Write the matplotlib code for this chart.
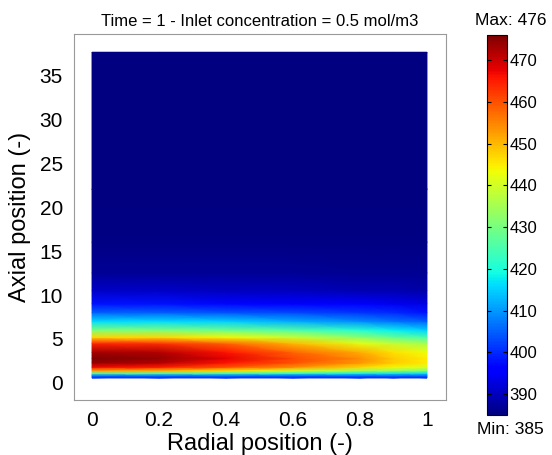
import matplotlib
matplotlib.use('Agg')
import numpy as np
import matplotlib.pyplot as plt

plt.rcParams['font.family'] = ['Liberation Sans', 'DejaVu Sans']

# Radial and axial positions of the read-off grid
radial = [0.0, 0.2, 0.4, 0.6, 0.8, 0.9, 1.0]
axial = [0.57, 0.8, 1.1, 1.4, 1.8, 2.3, 2.8, 3.5, 4.5, 5.2, 6.0, 7.0, 8.0,
         9.0, 10.5, 12.5, 16.0, 22.0, 37.6]

# Temperature, one list per radial position (bottom to top)
T_r00 = [400, 405, 425, 452, 467, 474, 476, 473, 464, 447, 431, 416, 405, 398, 391, 387, 385.5, 385, 385]
T_r02 = [400, 405, 424, 450, 465, 472, 474, 472, 463, 447, 431, 416, 405, 398, 391, 387, 385.5, 385, 385]
T_r04 = [400, 405, 422, 446, 460, 466, 468, 466, 458, 444, 429, 415, 404, 397, 390, 387, 385.5, 385, 385]
T_r06 = [400, 404, 420, 440, 454, 460, 461, 458, 450, 439, 426, 412, 403, 396, 390, 387, 385.5, 385, 385]
T_r08 = [400, 404, 418, 435, 447, 453, 454, 451, 442, 432, 421, 409, 401, 395, 389, 386.5, 385.5, 385, 385]
T_r09 = [400, 404, 417, 433, 444, 448, 448, 446, 438, 428, 418, 407, 400, 394, 389, 386.5, 385.5, 385, 385]
T_r10 = [400, 404, 416, 431, 441, 445, 445, 443, 435, 425, 415, 405, 398, 393, 388.5, 386.5, 385.5, 385, 385]

T_min, T_max = 385, 476
cbar_ticks = [390, 400, 410, 420, 430, 440, 450, 460, 470]

T = np.array([T_r00, T_r02, T_r04, T_r06, T_r08, T_r09, T_r10]).T
R, Z = np.meshgrid(radial, axial)

fig = plt.figure(figsize=(5.52, 4.55), dpi=100)
ax = fig.add_axes([0.134, 0.121, 0.674, 0.804])
mesh = ax.pcolormesh(R, Z, T, shading='gouraud', cmap='jet', vmin=T_min, vmax=T_max)

ax.set_xlim(-0.054, 1.057)
ax.set_ylim(-1.93, 39.66)
ax.set_xticks([0, 0.2, 0.4, 0.6, 0.8, 1])
ax.set_xticklabels(['0', '0.2', '0.4', '0.6', '0.8', '1'])
ax.set_yticks([0, 5, 10, 15, 20, 25, 30, 35])
ax.tick_params(length=0, labelsize=15, pad=8)
for s in ax.spines.values():
    s.set_color('#999999')
ax.set_xlabel('Radial position (-)', fontsize=17, labelpad=2)
ax.set_ylabel('Axial position (-)', fontsize=17, labelpad=6)
ax.set_title('Time = 1 - Inlet concentration = 0.5 mol/m3', fontsize=12, pad=6)

cax = fig.add_axes([0.882, 0.088, 0.036, 0.835])
cb = fig.colorbar(mesh, cax=cax, ticks=cbar_ticks)
cax.tick_params(direction='in', left=True, right=True, length=3, width=0.8,
                labelsize=12, pad=2)
cb.outline.set_linewidth(0.8)
fig.text(0.925, 0.954, 'Max: %d' % T_max, ha='center', va='center', fontsize=12.5)
fig.text(0.925, 0.055, 'Min: %d' % T_min, ha='center', va='center', fontsize=12.5)

plt.savefig('out.png', dpi=100)
